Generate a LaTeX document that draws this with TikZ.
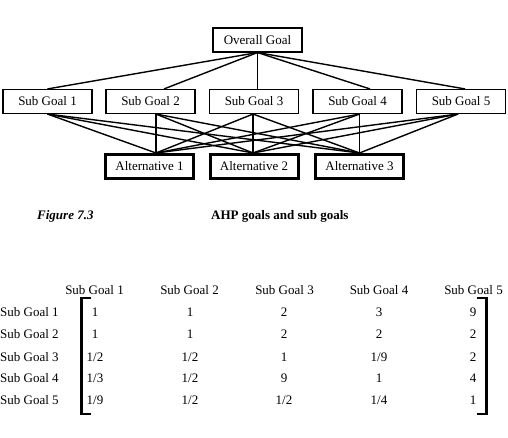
\documentclass[tikz,border=0pt]{standalone}
\usepackage{fontspec}
\setmainfont{Liberation Serif}
\begin{document}
\begin{tikzpicture}[x=1pt,y=-1pt,
  txt/.style={font=\fontsize{13}{15}\selectfont, inner sep=0pt},
  goalbox/.style={txt, draw, line width=1.1pt, minimum width=89pt, minimum height=24pt},
  altbox/.style={txt, draw, line width=3pt, minimum width=88pt, minimum height=24pt},
  conn/.style={line width=1.4pt},
  brack/.style={line width=2.6pt, line cap=butt, line join=miter}]
\useasboundingbox (0,0) rectangle (508,438);
% hierarchy
\node[goalbox] (og) at (257.5,40) {Overall Goal};
\node[goalbox] (sg1) at (47.5,101.5) {Sub Goal 1};
\node[goalbox] (sg2) at (150.5,101.5) {Sub Goal 2};
\node[goalbox] (sg3) at (254,101.5) {Sub Goal 3};
\node[goalbox] (sg4) at (357.5,101.5) {Sub Goal 4};
\node[goalbox] (sg5) at (461,101.5) {Sub Goal 5};
\node[altbox] (a1) at (149.5,166.5) {Alternative 1};
\node[altbox] (a2) at (254,166.5) {Alternative 2};
\node[altbox] (a3) at (359.5,166.5) {Alternative 3};
% connection points
\coordinate (n1) at (sg1.north);
\coordinate (n2) at ([xshift=13.5pt]sg2.north);
\coordinate (n3) at (og.south |- sg3.north);
\coordinate (n4) at ([xshift=12.5pt]sg4.north);
\coordinate (n5) at ([xshift=4pt]sg5.north);
\coordinate (t1) at ([xshift=6.5pt]a1.north);
\coordinate (t2) at ([xshift=-1pt]a2.north);
\coordinate (t3) at (a3.north);
\coordinate (b1) at (sg1.south);
\coordinate (b2) at (sg2.south -| t1);
\coordinate (b3) at (sg3.south -| t2);
\coordinate (b4) at (sg4.south -| t3);
\coordinate (b5) at ([xshift=-3pt]sg5.south);
\foreach \i in {1,...,5} {\draw[conn] (og.south) -- (n\i);}
\foreach \i in {1,...,5} {
  \foreach \j in {1,2,3} {\draw[conn] (b\i) -- (t\j);}
}
% caption
\node[txt, anchor=west, font=\fontsize{13}{15}\selectfont\bfseries\itshape] (figlab) at (37,216) {Figure 7.3};
\node[txt, anchor=west, font=\fontsize{13}{15}\selectfont\bfseries] (figcap) at (211,216) {AHP goals and sub goals};
% matrix
\foreach \c/\x in {1/94.5,2/189.5,3/284.5,4/379,5/473.5}
  {\node[txt] (h\c) at (\x,290) {Sub Goal \c};}
\foreach \r/\y in {1/312,2/334,3/357,4/378,5/400}
  {\node[txt, anchor=west] (r\r) at (0,\y) {Sub Goal \r};}
\foreach \r/\y/\a/\b/\c/\d/\e in {1/312/1/1/2/3/9, 2/334/1/1/2/2/2, 3/357/1\slash 2/1\slash 2/1/1\slash 9/2, 4/378/1\slash 3/1\slash 2/9/1/4, 5/400/1\slash 9/1\slash 2/1\slash 2/1\slash 4/1}{
  \node[txt] (m\r a) at (95,\y) {\a};
  \node[txt] (m\r b) at (190,\y) {\b};
  \node[txt] (m\r c) at (284,\y) {\c};
  \node[txt] (m\r d) at (379,\y) {\d};
  \node[txt] (m\r e) at (473,\y) {\e};
}
\draw[brack] (91,298) -- (81.5,298) -- (81.5,414) -- (91,414);
\draw[brack] (477,298) -- (486.5,298) -- (486.5,414) -- (477,414);
\end{tikzpicture}
\end{document}
